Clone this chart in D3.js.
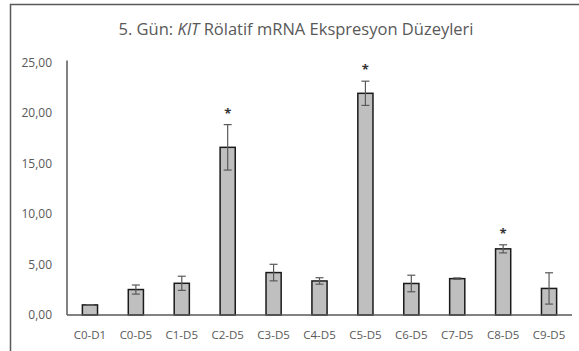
<!DOCTYPE html>
<html lang="tr">
<head>
  <meta charset="UTF-8">
  <title>KIT Rölatif mRNA Ekspresyon Düzeyleri</title>
  <script src="https://d3js.org/d3.v7.min.js"></script>
</head>
<body style="margin: 0; padding: 0; overflow: hidden; background: #fff;">
  <svg id="chart"></svg>

  <script>
    // data
    const categories = ["C0-D1", "C0-D5", "C1-D5", "C2-D5", "C3-D5", "C4-D5", "C5-D5", "C6-D5", "C7-D5", "C8-D5", "C9-D5"];
    const values = [1.00, 2.52, 3.14, 16.60, 4.20, 3.37, 21.95, 3.12, 3.60, 6.55, 2.63];
    const errors = [0.02, 0.45, 0.70, 2.25, 0.82, 0.32, 1.20, 0.82, 0.07, 0.40, 1.55];
    const significant = [false, false, false, true, false, false, true, false, false, true, false];
    const yTicks = [0, 5, 10, 15, 20, 25];

    const width = 579, height = 351;
    const font = "'Open Sans', sans-serif";

    const svg = d3.select("#chart")
      .attr("width", width)
      .attr("height", height);

    // outer chart border (only left and top visible, rest is cropped)
    svg.append("path")
      .attr("d", `M10.5,${height + 5} L10.5,4.5 L${width + 5},4.5`)
      .attr("fill", "none")
      .attr("stroke", "#595959")
      .attr("stroke-width", 1.5);

    svg.append("text")
      .attr("x", 296)
      .attr("y", 35)
      .attr("text-anchor", "middle")
      .attr("font-family", font)
      .attr("font-size", 16.5)
      .attr("fill", "#595959")
      .call(t => {
        t.append("tspan").text("5. Gün: ");
        t.append("tspan").attr("font-style", "italic").text("KIT");
        t.append("tspan").text(" Rölatif mRNA Ekspresyon Düzeyleri");
      });

    const x = d3.scaleBand()
      .domain(categories)
      .range([67, 572])
      .paddingInner(0.67)
      .paddingOuter(0.335);

    const y = d3.scaleLinear()
      .domain([0, 25])
      .range([315, 62.5]);

    // y tick labels
    svg.append("g")
      .selectAll("text")
      .data(yTicks)
      .enter()
      .append("text")
      .attr("x", 52)
      .attr("y", d => y(d))
      .attr("dy", "0.35em")
      .attr("text-anchor", "end")
      .attr("font-family", font)
      .attr("font-size", 12)
      .attr("fill", "#595959")
      .text(d => d3.format(".2f")(d).replace(".", ","));

    // y axis line
    svg.append("line")
      .attr("x1", 67).attr("x2", 67)
      .attr("y1", y(25) - 2).attr("y2", y(0))
      .attr("stroke", "#595959")
      .attr("stroke-width", 1.5);

    const rows = categories.map((c, i) => ({ c, v: values[i], e: errors[i], s: significant[i] }));

    // bars
    svg.append("g")
      .selectAll("rect")
      .data(rows)
      .enter()
      .append("rect")
      .attr("x", d => x(d.c))
      .attr("y", d => y(d.v))
      .attr("width", x.bandwidth())
      .attr("height", d => y(0) - y(d.v))
      .attr("fill", "#bfbfbf")
      .attr("stroke", "#1a1a1a")
      .attr("stroke-width", 1.5);

    // x axis line
    svg.append("line")
      .attr("x1", 67).attr("x2", 572)
      .attr("y1", y(0)).attr("y2", y(0))
      .attr("stroke", "#595959")
      .attr("stroke-width", 1.5);

    // error bars
    const err = svg.append("g")
      .attr("stroke", "#595959")
      .attr("stroke-width", 1.2)
      .selectAll("g")
      .data(rows)
      .enter()
      .append("g")
      .attr("transform", d => `translate(${x(d.c) + x.bandwidth() / 2},0)`);

    err.append("line")
      .attr("y1", d => y(d.v + d.e))
      .attr("y2", d => y(d.v - d.e));
    err.append("line")
      .attr("x1", -4).attr("x2", 4)
      .attr("y1", d => y(d.v + d.e)).attr("y2", d => y(d.v + d.e));
    err.append("line")
      .attr("x1", -4).attr("x2", 4)
      .attr("y1", d => y(d.v - d.e)).attr("y2", d => y(d.v - d.e));

    // significance stars
    svg.append("g")
      .selectAll("text")
      .data(rows.filter(d => d.s))
      .enter()
      .append("text")
      .attr("x", d => x(d.c) + x.bandwidth() / 2)
      .attr("y", d => y(d.v + d.e) - 7)
      .attr("text-anchor", "middle")
      .attr("font-family", font)
      .attr("font-size", 13)
      .attr("font-weight", "bold")
      .attr("fill", "#333")
      .text("*");

    // x labels
    svg.append("g")
      .selectAll("text")
      .data(categories)
      .enter()
      .append("text")
      .attr("x", d => x(d) + x.bandwidth() / 2)
      .attr("y", 339)
      .attr("text-anchor", "middle")
      .attr("font-family", font)
      .attr("font-size", 11.5)
      .attr("fill", "#595959")
      .text(d => d);
  </script>
</body>
</html>
